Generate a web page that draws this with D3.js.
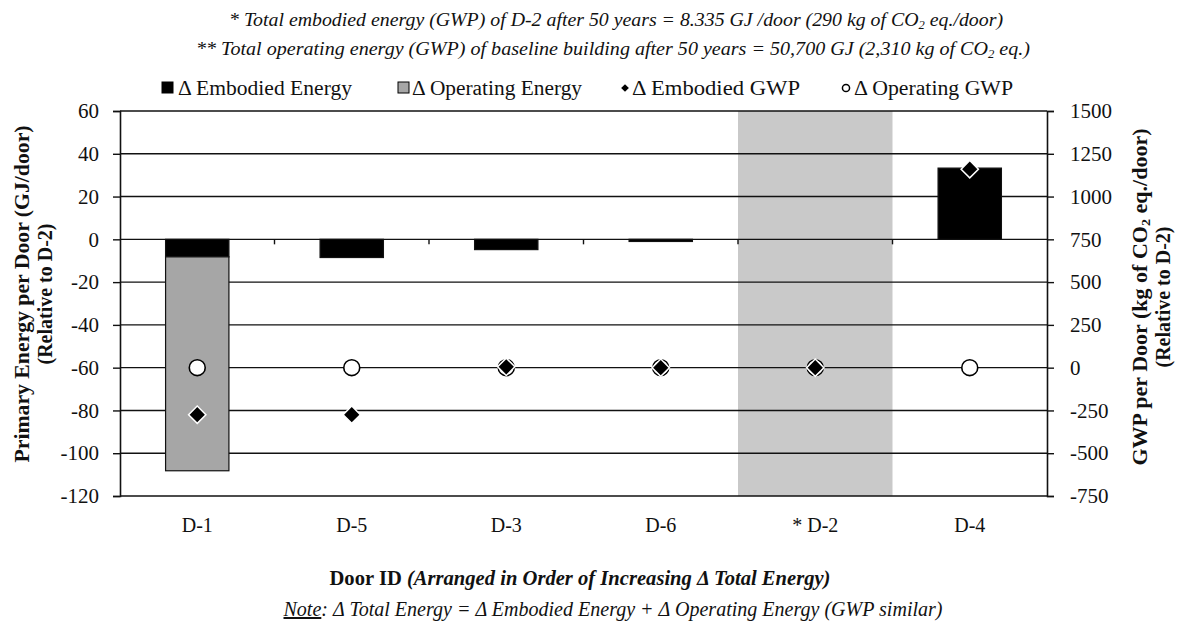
<!DOCTYPE html>
<html>
<head>
<meta charset="utf-8">
<script src="https://cdn.jsdelivr.net/npm/d3@7"></script>
<style>
  html, body { margin: 0; padding: 0; background: #fff; }
  svg { display: block; font-family: "Liberation Serif", "Times New Roman", serif; }
</style>
</head>
<body>
<svg id="chart" width="1183" height="625"></svg>
<script>
// Doors, ordered by increasing change in total energy (relative to D-2)
const doors = ["D-1", "D-5", "D-3", "D-6", "D-2", "D-4"];
const doorLabels = ["D-1", "D-5", "D-3", "D-6", "* D-2", "D-4"];
const baselineDoor = "D-2";

// Primary energy change per door, GJ/door (left axis)
const embodiedEnergy = [-8.2, -8.5, -4.8, -1.0, 0, 33.3];
const operatingEnergy = [-100, 0, 0, 0, 0, 0];

// GWP change per door, kg CO2 eq./door (right axis)
const embodiedGWP = [-275, -275, 5, 0, 0, 1160];
const operatingGWP = [0, 0, 0, 0, 0, 0];

// Axis ticks
const energyTicks = [60, 40, 20, 0, -20, -40, -60, -80, -100, -120];
const gwpTicks = [1500, 1250, 1000, 750, 500, 250, 0, -250, -500, -750];

const svg = d3.select("#chart");
const plotL = 120, plotR = 1047, plotT = 111, plotB = 496;
const ink = "#111";

const x = d3.scaleBand().domain(doors).range([plotL, plotR]).padding(0);
const y = d3.scaleLinear().domain([-120, 60]).range([plotB, plotT]);
const y2 = d3.scaleLinear().domain([-750, 1500]).range([plotB, plotT]);

const bw = x.bandwidth();
const barW = bw * 0.41;
const cx = d => x(d) + bw / 2;

// Baseline door highlight
svg.append("rect")
  .attr("x", x(baselineDoor)).attr("y", plotT)
  .attr("width", bw).attr("height", plotB - plotT)
  .attr("fill", "#c9c9c9");

// Horizontal gridlines
svg.append("g").selectAll("line").data(energyTicks).join("line")
  .attr("x1", plotL).attr("x2", plotR)
  .attr("y1", d => y(d)).attr("y2", d => y(d))
  .attr("stroke", ink).attr("stroke-width", 1.4);

// Stacked energy bars
const rows = doors.map((d, i) => ({ door: d, embodied: embodiedEnergy[i], operating: operatingEnergy[i] }));
const stack = d3.stack().keys(["embodied", "operating"]).offset(d3.stackOffsetDiverging);
const layers = stack(rows);
const fills = { embodied: "#000", operating: "#a6a6a6" };

svg.append("g").selectAll("g").data(layers).join("g")
  .attr("fill", l => fills[l.key])
  .selectAll("rect").data(l => l.filter(s => s[0] !== s[1])).join("rect")
    .attr("x", s => x(s.data.door) + (bw - barW) / 2)
    .attr("width", barW)
    .attr("y", s => y(Math.max(s[0], s[1])))
    .attr("height", s => Math.abs(y(s[0]) - y(s[1])))
    .attr("stroke", ink).attr("stroke-width", 1.2);

// Category ticks along the zero line
svg.append("g").selectAll("line").data(doors.slice(1)).join("line")
  .attr("x1", d => x(d)).attr("x2", d => x(d))
  .attr("y1", y(0)).attr("y2", y(0) + 5)
  .attr("stroke", ink).attr("stroke-width", 1.4);

// Left and right value axes
const leftAxis = svg.append("g").attr("transform", `translate(${plotL},0)`)
  .call(d3.axisLeft(y).tickValues(energyTicks).tickSize(7).tickPadding(14));
const rightAxis = svg.append("g").attr("transform", `translate(${plotR},0)`)
  .call(d3.axisRight(y2).tickValues(gwpTicks).tickSize(7).tickPadding(16));
[leftAxis, rightAxis].forEach(a => {
  a.attr("font-family", null);
  a.select(".domain").attr("stroke", ink).attr("stroke-width", 1.6);
  a.selectAll(".tick line").attr("stroke", ink).attr("stroke-width", 1.4);
  a.selectAll(".tick text").attr("font-size", 21).attr("fill", ink)
    .text(d => d < 0 ? "-" + Math.abs(d) : String(d));
});

// Operating GWP markers (circles), drawn under embodied GWP diamonds
const circleSym = d3.symbol().type(d3.symbolCircle).size(200);
svg.append("g").selectAll("path").data(doors).join("path")
  .attr("d", circleSym)
  .attr("transform", (d, i) => `translate(${cx(d)},${y2(operatingGWP[i])})`)
  .attr("fill", "#fff").attr("stroke", "#000").attr("stroke-width", 1.6);

// Embodied GWP markers (diamonds)
const diamondSym = d3.symbol().type(d3.symbolSquare).size(150);
svg.append("g").selectAll("path").data(doors).join("path")
  .attr("d", diamondSym)
  .attr("transform", (d, i) => `translate(${cx(d)},${y2(embodiedGWP[i])}) rotate(45)`)
  .attr("fill", "#000").attr("stroke", "#fff").attr("stroke-width", 1.5);

// Category labels
svg.append("g").selectAll("text").data(doors).join("text")
  .attr("x", d => cx(d)).attr("y", 532)
  .attr("text-anchor", "middle").attr("font-size", 20).attr("fill", ink)
  .text((d, i) => doorLabels[i]);

// Axis titles
function vTitle(xPos, cy) {
  return svg.append("text")
    .attr("transform", `translate(${xPos},${cy}) rotate(-90)`)
    .attr("text-anchor", "middle").attr("font-weight", "bold")
    .attr("font-size", 20).attr("fill", ink);
}
vTitle(29, 294).attr("textLength", 337).attr("lengthAdjust", "spacingAndGlyphs")
  .text("Primary Energy per Door (GJ/door)");
vTitle(52, 294).text("(Relative to D-2)");
const rt = vTitle(1147, 297).attr("textLength", 337).attr("lengthAdjust", "spacingAndGlyphs");
rt.append("tspan").text("GWP per Door (kg of CO");
rt.append("tspan").attr("font-size", 13).attr("dy", 3).text("2");
rt.append("tspan").attr("dy", -3).text(" eq./door)");
vTitle(1170, 297).text("(Relative to D-2)");

// Header notes
const h1 = svg.append("text").attr("x", 616).attr("y", 26).attr("text-anchor", "middle")
  .attr("font-style", "italic").attr("font-size", 19).attr("fill", ink)
  .attr("textLength", 774).attr("lengthAdjust", "spacingAndGlyphs");
h1.append("tspan").text("* Total embodied energy (GWP) of  D-2 after 50 years =  8.335 GJ /door (290 kg of CO");
h1.append("tspan").attr("font-size", 12).attr("dy", 3).text("2");
h1.append("tspan").attr("dy", -3).text(" eq./door)");

const h2 = svg.append("text").attr("x", 613).attr("y", 55).attr("text-anchor", "middle")
  .attr("font-style", "italic").attr("font-size", 19).attr("fill", ink)
  .attr("textLength", 834).attr("lengthAdjust", "spacingAndGlyphs");
h2.append("tspan").text("** Total operating energy (GWP) of baseline building after 50 years =  50,700 GJ (2,310 kg of CO");
h2.append("tspan").attr("font-size", 12).attr("dy", 3).text("2");
h2.append("tspan").attr("dy", -3).text(" eq.)");

// Legend
const legendItems = [
  { label: "\u0394 Embodied Energy", mx: 168, tx: 178, w: 174, kind: "black" },
  { label: "\u0394 Operating Energy", mx: 404, tx: 412, w: 170, kind: "gray" },
  { label: "\u0394 Embodied GWP", mx: 625, tx: 632, w: 168, kind: "diamond" },
  { label: "\u0394 Operating GWP", mx: 846, tx: 854, w: 159, kind: "circle" }
];
const ly = 88;
const lg = svg.append("g");
legendItems.forEach(it => {
  if (it.kind === "black" || it.kind === "gray") {
    lg.append("rect").attr("x", it.mx - 6).attr("y", ly - 6).attr("width", 11).attr("height", 11)
      .attr("fill", it.kind === "black" ? "#000" : "#a6a6a6").attr("stroke", "#000").attr("stroke-width", 1);
  } else if (it.kind === "diamond") {
    lg.append("path").attr("d", d3.symbol().type(d3.symbolSquare).size(30)())
      .attr("transform", `translate(${it.mx},${ly}) rotate(45)`).attr("fill", "#000");
  } else {
    lg.append("path").attr("d", d3.symbol().type(d3.symbolCircle).size(40)())
      .attr("transform", `translate(${it.mx},${ly})`).attr("fill", "#fff").attr("stroke", "#000").attr("stroke-width", 1.5);
  }
  lg.append("text").attr("x", it.tx).attr("y", ly + 7).attr("font-size", 20).attr("fill", ink)
    .attr("textLength", it.w).attr("lengthAdjust", "spacingAndGlyphs").text(it.label);
});

// X axis title
const xt = svg.append("text").attr("x", 580).attr("y", 585).attr("text-anchor", "middle")
  .attr("font-size", 21).attr("font-weight", "bold").attr("fill", ink)
  .attr("textLength", 501).attr("lengthAdjust", "spacingAndGlyphs");
xt.append("tspan").text("Door ID ");
xt.append("tspan").attr("font-style", "italic").text("(Arranged in Order of Increasing \u0394 Total Energy)");

// Footnote
const nt = svg.append("text").attr("x", 613).attr("y", 616).attr("text-anchor", "middle")
  .attr("font-size", 20).attr("font-style", "italic").attr("fill", ink)
  .attr("textLength", 659).attr("lengthAdjust", "spacingAndGlyphs");
nt.append("tspan").attr("text-decoration", "underline").text("Note");
nt.append("tspan").text(": \u0394 Total Energy = \u0394 Embodied Energy + \u0394 Operating Energy (GWP similar)");
</script>
</body>
</html>
